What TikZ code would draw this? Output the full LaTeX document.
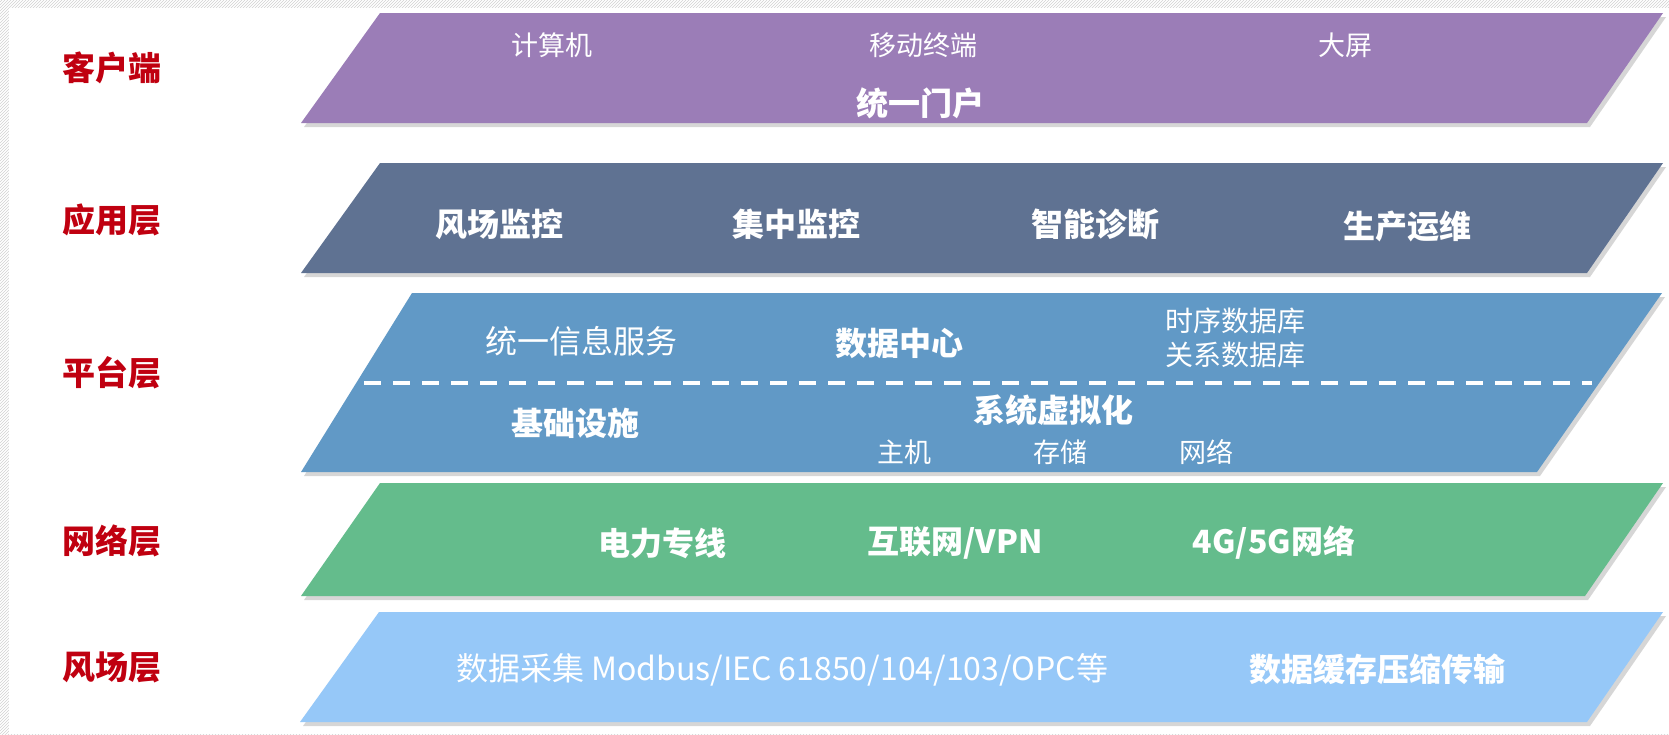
\documentclass[tikz,border=0pt]{standalone}
\usepackage{fontspec}
\setmainfont{Noto Sans CJK SC}
\usetikzlibrary{patterns,shadows}
\definecolor{labred}{HTML}{C00010}
\definecolor{cpurple}{HTML}{9B7DB7}
\definecolor{cslate}{HTML}{5F7292}
\definecolor{cplat}{HTML}{6199C6}
\definecolor{cgreen}{HTML}{64BC8C}
\definecolor{clight}{HTML}{96C8F8}
\tikzset{
  band/.style={draw=none, drop shadow={shadow xshift=3pt, shadow yshift=-4pt, opacity=0.35, fill=black!45}},
  lab/.style={text=labred, font=\fontsize{33}{33}\selectfont\bfseries, inner sep=0pt},
  big/.style={text=white, font=\fontsize{32}{32}\selectfont\bfseries, inner sep=0pt},
  bigr/.style={text=white, font=\fontsize{32}{32}\selectfont, inner sep=0pt},
  small/.style={text=white, font=\fontsize{27}{27}\selectfont, inner sep=0pt},
  mid/.style={text=white, font=\fontsize{28}{28}\selectfont, inner sep=0pt},
}
\begin{document}
\begin{tikzpicture}[x=1pt,y=-1pt]
\useasboundingbox (0,0) rectangle (1669,734);
\fill[pattern=north east lines, pattern color=black!18] (0,0) rectangle (1669,734);
\fill[white] (9,8) rectangle (1669,734);

% bands
\fill[cpurple, band] (301,123) -- (380,13) -- (1663,13) -- (1587,123) -- cycle;
\fill[cslate, band] (301,273) -- (380,163) -- (1663,163) -- (1587,273) -- cycle;
\fill[cplat, band] (301,472) -- (412,293) -- (1662,293) -- (1537,472) -- cycle;
\fill[cgreen, band] (301,596) -- (380,483) -- (1663,483) -- (1585,596) -- cycle;
\fill[clight, band] (300,722) -- (379,612) -- (1663,612) -- (1587,722) -- cycle;

% dashed separator
\coordinate (dL) at (364,383);
\coordinate (dR) at (1592,383);
\draw[white, line width=3.5pt, dash pattern=on 17pt off 12pt] (dL) -- (dR);

% layer labels
\node[lab] (l1) at (112,68) {客户端};
\node[lab] (l2) at (112,220) {应用层};
\node[lab] (l3) at (112,373) {平台层};
\node[lab] (l4) at (112,541) {网络层};
\node[lab] (l5) at (112,667) {风场层};

% client
\node[small] (c1) at (552,45) {计算机};
\node[small] (c2) at (923,45) {移动终端};
\node[small] (c3) at (1345,45) {大屏};
\node[big] (c4) at (920,103) {统一门户};

% application
\node[big] (a1) at (499,224) {风场监控};
\node[big] (a2) at (796,224) {集中监控};
\node[big] (a3) at (1095,224) {智能诊断};
\node[big] (a4) at (1407,226) {生产运维};

% platform
\node[bigr] (p1) at (581,341) {统一信息服务};
\node[big] (p2) at (899,343) {数据中心};
\node[mid] (p3) at (1235,321) {时序数据库};
\node[mid] (p4) at (1235,355) {关系数据库};
\node[big] (p5) at (575,423) {基础设施};
\node[big] (p6) at (1053,410) {系统虚拟化};
\node[small] (p7) at (904,452) {主机};
\node[small] (p8) at (1060,452) {存储};
\node[small] (p9) at (1206,452) {网络};

% network
\node[big] (n1) at (662,543) {电力专线};
\node[big] (n2) at (955,543) {互联网/VPN};
\node[big] (n3) at (1274,543) {4G/5G网络};

% wind farm
\node[bigr] (w1) at (782,670) {数据采集 Modbus/IEC 61850/104/103/OPC等};
\node[big] (w2) at (1377,669) {数据缓存压缩传输};
\end{tikzpicture}
\end{document}
